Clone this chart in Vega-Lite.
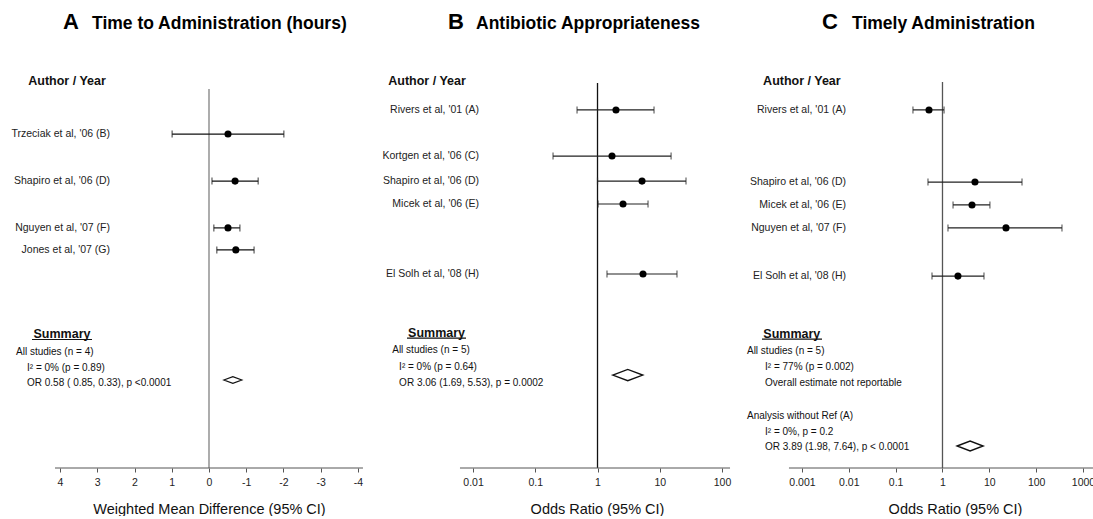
{
  "$schema": "https://vega.github.io/schema/vega-lite/v6.json",
  "padding": 0,
  "background": "white",
  "bounds": "flush",
  "spacing": 0,
  "config": {
    "font": "Liberation Sans",
    "view": {"stroke": null},
    "axis": {"domain": false, "grid": false, "ticks": true, "tickSize": 4, "tickColor": "#555", "labelFontSize": 10.5, "labelColor": "#222", "labelPadding": 5, "labelFlush": false, "titleFontSize": 14.5, "titleFontWeight": "normal", "titleColor": "#111", "titlePadding": 15, "labelFont": "Liberation Sans", "titleFont": "Liberation Sans"},
    "text": {"font": "Liberation Sans", "color": "#111"}
  },
  "datasets": {
    "A_studies": [
      {"label": "Trzeciak et al, '06 (B)", "row": 2.31, "est": -0.51, "lo": 0.99, "hi": -2.01},
      {"label": "Shapiro et al, '06 (D)", "row": 4.32, "est": -0.70, "lo": -0.08, "hi": -1.32},
      {"label": "Nguyen et al, '07 (F)", "row": 6.32, "est": -0.51, "lo": -0.13, "hi": -0.83},
      {"label": "Jones et al, '07 (G)", "row": 7.26, "est": -0.72, "lo": -0.21, "hi": -1.21}
    ],
    "A_pool": [{"row": 12.82, "est": -0.64, "lo": -0.40, "hi": -0.89}],
    "A_notes": [
      {"text": "All studies (n = 4)", "row": 11.62, "level": 1},
      {"text": "I² = 0% (p = 0.89)", "row": 12.31, "level": 2},
      {"text": "OR  0.58 ( 0.85,  0.33), p <0.0001", "row": 12.95, "level": 2}
    ],
    "B_studies": [
      {"label": "Rivers et al, '01 (A)", "row": 1.28, "est": 1.98, "lo": 0.469, "hi": 8.09},
      {"label": "Kortgen et al, '06 (C)", "row": 3.25, "est": 1.71, "lo": 0.193, "hi": 15.2},
      {"label": "Shapiro et al, '06 (D)", "row": 4.32, "est": 5.19, "lo": 1.0, "hi": 26.4},
      {"label": "Micek et al, '06 (E)", "row": 5.3, "est": 2.57, "lo": 1.02, "hi": 6.48},
      {"label": "El Solh et al, '08 (H)", "row": 8.29, "est": 5.38, "lo": 1.42, "hi": 18.9}
    ],
    "B_pool": [{"row": 12.61, "est": 3.06, "lo": 1.69, "hi": 5.53}],
    "B_notes": [
      {"text": "All studies (n = 5)", "row": 11.54, "level": 1},
      {"text": "I² = 0% (p = 0.64)", "row": 12.26, "level": 2},
      {"text": "OR 3.06 (1.69, 5.53), p = 0.0002", "row": 12.95, "level": 2}
    ],
    "C_studies": [
      {"label": "Rivers et al, '01 (A)", "row": 1.28, "est": 0.515, "lo": 0.234, "hi": 1.08},
      {"label": "Shapiro et al, '06 (D)", "row": 4.36, "est": 4.94, "lo": 0.49, "hi": 49.9},
      {"label": "Micek et al, '06 (E)", "row": 5.34, "est": 4.27, "lo": 1.68, "hi": 10.3},
      {"label": "Nguyen et al, '07 (F)", "row": 6.32, "est": 22.7, "lo": 1.31, "hi": 356},
      {"label": "El Solh et al, '08 (H)", "row": 8.38, "est": 2.14, "lo": 0.597, "hi": 7.69}
    ],
    "C_pool": [{"row": 15.64, "est": 3.89, "lo": 1.98, "hi": 7.64}],
    "C_notes": [
      {"text": "All studies (n = 5)", "row": 11.58, "level": 1},
      {"text": "I² = 77% (p = 0.002)", "row": 12.26, "level": 2},
      {"text": "Overall estimate not reportable", "row": 12.95, "level": 2},
      {"text": "Analysis without Ref (A)", "row": 14.36, "level": 1},
      {"text": "I² = 0%, p = 0.2", "row": 15.04, "level": 2},
      {"text": "OR 3.89 (1.98, 7.64), p < 0.0001", "row": 15.68, "level": 2}
    ]
  },
  "hconcat": [
    {
      "width": 366,
      "height": 468,
      "layer": [
        {"data": {"values": [{}]}, "mark": {"type": "rule", "color": "#808080", "strokeWidth": 1.3},
         "encoding": {"x": {"datum": 0, "type": "quantitative", "scale": {"domain": [-4.215, 5.611], "reverse": true, "nice": false, "zero": false}, "axis": {"values": [4, 3, 2, 1, 0, -1, -2, -3, -4], "labelExpr": "'' + datum.value", "title": "Weighted Mean Difference (95% CI)", "titleX": 209}},
                      "y": {"datum": 0.38, "type": "quantitative", "scale": {"domain": [-3.419, 16.581], "reverse": true, "nice": false, "zero": false}, "axis": null},
                      "y2": {"datum": 16.581}}},
        {"data": {"values": [{}]}, "mark": {"type": "rule", "color": "#555", "strokeWidth": 1},
         "encoding": {"x": {"datum": 4.134, "type": "quantitative"}, "x2": {"datum": -4.134}, "y": {"datum": 16.581, "type": "quantitative", "axis": null}}},
        {"data": {"name": "A_studies"}, "mark": {"type": "rule", "color": "#111", "strokeWidth": 1.2},
         "encoding": {"x": {"field": "lo", "type": "quantitative"}, "x2": {"field": "hi"}, "y": {"field": "row", "type": "quantitative", "axis": null}}},
        {"data": {"name": "A_studies"}, "transform": [{"fold": ["lo", "hi"], "as": ["end", "v"]}], "mark": {"type": "tick", "orient": "vertical", "color": "#111", "thickness": 1.2, "size": 7},
         "encoding": {"x": {"field": "v", "type": "quantitative"}, "y": {"field": "row", "type": "quantitative", "axis": null}}},
        {"data": {"name": "A_studies"}, "mark": {"type": "point", "shape": "circle", "filled": true, "color": "#000", "size": 50, "opacity": 1},
         "encoding": {"x": {"field": "est", "type": "quantitative"}, "y": {"field": "row", "type": "quantitative", "axis": null}}},
        {"data": {"name": "A_pool"}, "mark": {"type": "point", "shape": "M-1,0L0,-0.38L1,0L0,0.38Z", "filled": true, "fill": "white", "stroke": "#111", "strokeWidth": 1.2, "size": 324, "opacity": 1},
         "encoding": {"x": {"field": "est", "type": "quantitative"}, "y": {"field": "row", "type": "quantitative", "axis": null}}},
        {"data": {"name": "A_studies"}, "mark": {"type": "text", "align": "right", "baseline": "middle", "fontSize": 10.5, "color": "#222"},
         "encoding": {"x": {"datum": 2.658, "type": "quantitative"}, "y": {"field": "row", "type": "quantitative", "axis": null}, "text": {"field": "label"}}},
        {"data": {"values": [{"text": "Author / Year", "row": 0.04}]}, "mark": {"type": "text", "align": "center", "baseline": "middle", "fontSize": 12.5, "fontWeight": "bold"},
         "encoding": {"x": {"datum": 3.812, "type": "quantitative"}, "y": {"field": "row", "type": "quantitative", "axis": null}, "text": {"field": "text"}}},
        {"data": {"values": [{"text": "Summary", "row": 10.85}]}, "mark": {"type": "text", "align": "center", "baseline": "middle", "fontSize": 12.5, "fontWeight": "bold"},
         "encoding": {"x": {"datum": 3.946, "type": "quantitative"}, "y": {"field": "row", "type": "quantitative", "axis": null}, "text": {"field": "text"}}},
        {"data": {"values": [{}]}, "mark": {"type": "rule", "color": "#111", "strokeWidth": 1.2},
         "encoding": {"x": {"datum": 4.752, "type": "quantitative"}, "x2": {"datum": 3.141}, "y": {"datum": 11.09, "type": "quantitative", "axis": null}}},
        {"data": {"name": "A_notes"}, "transform": [{"filter": "datum.level == 1"}], "mark": {"type": "text", "align": "left", "baseline": "middle", "fontSize": 10},
         "encoding": {"x": {"datum": 5.181, "type": "quantitative"}, "y": {"field": "row", "type": "quantitative", "axis": null}, "text": {"field": "text"}}},
        {"data": {"name": "A_notes"}, "transform": [{"filter": "datum.level == 2"}], "mark": {"type": "text", "align": "left", "baseline": "middle", "fontSize": 10},
         "encoding": {"x": {"datum": 4.886, "type": "quantitative"}, "y": {"field": "row", "type": "quantitative", "axis": null}, "text": {"field": "text"}}},
        {"data": {"values": [{"text": "A", "row": -2.16}]}, "mark": {"type": "text", "align": "left", "baseline": "alphabetic", "fontSize": 22, "fontWeight": "bold", "color": "#000"},
         "encoding": {"x": {"datum": 3.919, "type": "quantitative"}, "y": {"field": "row", "type": "quantitative", "axis": null}, "text": {"field": "text"}}},
        {"data": {"values": [{"text": "Time to Administration (hours)", "row": -2.16}]}, "mark": {"type": "text", "align": "left", "baseline": "alphabetic", "fontSize": 17.5, "fontWeight": "bold", "color": "#000"},
         "encoding": {"x": {"datum": 3.141, "type": "quantitative"}, "y": {"field": "row", "type": "quantitative", "axis": null}, "text": {"field": "text"}}}
      ]
    },
    {
      "width": 374,
      "height": 468,
      "layer": [
        {"data": {"values": [{}]}, "mark": {"type": "rule", "color": "#111", "strokeWidth": 1.3},
         "encoding": {"x": {"datum": 1, "type": "quantitative", "scale": {"type": "log", "domain": [0.000191, 194.5], "nice": false}, "axis": {"values": [0.01, 0.1, 1, 10, 100], "labelExpr": "'' + datum.value", "title": "Odds Ratio (95% CI)", "titleX": 231}},
                      "y": {"datum": 0.13, "type": "quantitative", "scale": {"domain": [-3.419, 16.581], "reverse": true, "nice": false, "zero": false}, "axis": null},
                      "y2": {"datum": 16.581}}},
        {"data": {"values": [{}]}, "mark": {"type": "rule", "color": "#555", "strokeWidth": 1},
         "encoding": {"x": {"datum": 0.00618, "type": "quantitative"}, "x2": {"datum": 134.5}, "y": {"datum": 16.581, "type": "quantitative", "axis": null}}},
        {"data": {"name": "B_studies"}, "mark": {"type": "rule", "color": "#222", "strokeWidth": 1.2},
         "encoding": {"x": {"field": "lo", "type": "quantitative"}, "x2": {"field": "hi"}, "y": {"field": "row", "type": "quantitative", "axis": null}}},
        {"data": {"name": "B_studies"}, "transform": [{"fold": ["lo", "hi"], "as": ["end", "v"]}], "mark": {"type": "tick", "orient": "vertical", "color": "#222", "thickness": 1.2, "size": 7},
         "encoding": {"x": {"field": "v", "type": "quantitative"}, "y": {"field": "row", "type": "quantitative", "axis": null}}},
        {"data": {"name": "B_studies"}, "mark": {"type": "point", "shape": "circle", "filled": true, "color": "#000", "size": 50, "opacity": 1},
         "encoding": {"x": {"field": "est", "type": "quantitative"}, "y": {"field": "row", "type": "quantitative", "axis": null}}},
        {"data": {"name": "B_pool"}, "mark": {"type": "point", "shape": "M-1,0L0,-0.38L1,0L0,0.38Z", "filled": true, "fill": "white", "stroke": "#111", "strokeWidth": 1.4, "size": 900, "opacity": 1},
         "encoding": {"x": {"field": "est", "type": "quantitative"}, "y": {"field": "row", "type": "quantitative", "axis": null}}},
        {"data": {"name": "B_studies"}, "mark": {"type": "text", "align": "right", "baseline": "middle", "fontSize": 10.5, "color": "#222"},
         "encoding": {"x": {"datum": 0.01248, "type": "quantitative"}, "y": {"field": "row", "type": "quantitative", "axis": null}, "text": {"field": "label"}}},
        {"data": {"values": [{"text": "Author / Year", "row": 0.04}]}, "mark": {"type": "text", "align": "center", "baseline": "middle", "fontSize": 12.5, "fontWeight": "bold"},
         "encoding": {"x": {"datum": 0.001824, "type": "quantitative"}, "y": {"field": "row", "type": "quantitative", "axis": null}, "text": {"field": "text"}}},
        {"data": {"values": [{"text": "Summary", "row": 10.81}]}, "mark": {"type": "text", "align": "center", "baseline": "middle", "fontSize": 12.5, "fontWeight": "bold"},
         "encoding": {"x": {"datum": 0.002594, "type": "quantitative"}, "y": {"field": "row", "type": "quantitative", "axis": null}, "text": {"field": "text"}}},
        {"data": {"values": [{}]}, "mark": {"type": "rule", "color": "#111", "strokeWidth": 1.2},
         "encoding": {"x": {"datum": 0.000871, "type": "quantitative"}, "x2": {"datum": 0.00772}, "y": {"datum": 11.03, "type": "quantitative", "axis": null}}},
        {"data": {"name": "B_notes"}, "transform": [{"filter": "datum.level == 1"}], "mark": {"type": "text", "align": "left", "baseline": "middle", "fontSize": 10},
         "encoding": {"x": {"datum": 0.000504, "type": "quantitative"}, "y": {"field": "row", "type": "quantitative", "axis": null}, "text": {"field": "text"}}},
        {"data": {"name": "B_notes"}, "transform": [{"filter": "datum.level == 2"}], "mark": {"type": "text", "align": "left", "baseline": "middle", "fontSize": 10},
         "encoding": {"x": {"datum": 0.00065, "type": "quantitative"}, "y": {"field": "row", "type": "quantitative", "axis": null}, "text": {"field": "text"}}},
        {"data": {"values": [{"text": "B", "row": -2.16}]}, "mark": {"type": "text", "align": "left", "baseline": "alphabetic", "fontSize": 22, "fontWeight": "bold", "color": "#000"},
         "encoding": {"x": {"datum": 0.00396, "type": "quantitative"}, "y": {"field": "row", "type": "quantitative", "axis": null}, "text": {"field": "text"}}},
        {"data": {"values": [{"text": "Antibiotic Appropriateness", "row": -2.16}]}, "mark": {"type": "text", "align": "left", "baseline": "alphabetic", "fontSize": 17.5, "fontWeight": "bold", "color": "#000"},
         "encoding": {"x": {"datum": 0.01117, "type": "quantitative"}, "y": {"field": "row", "type": "quantitative", "axis": null}, "text": {"field": "text"}}}
      ]
    },
    {
      "width": 353,
      "height": 468,
      "layer": [
        {"data": {"values": [{}]}, "mark": {"type": "rule", "color": "#555", "strokeWidth": 1.3},
         "encoding": {"x": {"datum": 1, "type": "quantitative", "scale": {"type": "log", "domain": [0.00004742, 1637], "nice": false}, "axis": {"values": [0.001, 0.01, 0.1, 1, 10, 100, 1000], "labelExpr": "'' + datum.value", "title": "Odds Ratio (95% CI)", "titleX": 215}},
                      "y": {"datum": 0.09, "type": "quantitative", "scale": {"domain": [-3.419, 16.581], "reverse": true, "nice": false, "zero": false}, "axis": null},
                      "y2": {"datum": 16.581}}},
        {"data": {"values": [{}]}, "mark": {"type": "rule", "color": "#555", "strokeWidth": 1},
         "encoding": {"x": {"datum": 0.000527, "type": "quantitative"}, "x2": {"datum": 1637}, "y": {"datum": 16.581, "type": "quantitative", "axis": null}}},
        {"data": {"name": "C_studies"}, "mark": {"type": "rule", "color": "#222", "strokeWidth": 1.2},
         "encoding": {"x": {"field": "lo", "type": "quantitative"}, "x2": {"field": "hi"}, "y": {"field": "row", "type": "quantitative", "axis": null}}},
        {"data": {"name": "C_studies"}, "transform": [{"fold": ["lo", "hi"], "as": ["end", "v"]}], "mark": {"type": "tick", "orient": "vertical", "color": "#222", "thickness": 1.2, "size": 7},
         "encoding": {"x": {"field": "v", "type": "quantitative"}, "y": {"field": "row", "type": "quantitative", "axis": null}}},
        {"data": {"name": "C_studies"}, "mark": {"type": "point", "shape": "circle", "filled": true, "color": "#000", "size": 50, "opacity": 1},
         "encoding": {"x": {"field": "est", "type": "quantitative"}, "y": {"field": "row", "type": "quantitative", "axis": null}}},
        {"data": {"name": "C_pool"}, "mark": {"type": "point", "shape": "M-1,0L0,-0.38L1,0L0,0.38Z", "filled": true, "fill": "white", "stroke": "#111", "strokeWidth": 1.4, "size": 676, "opacity": 1},
         "encoding": {"x": {"field": "est", "type": "quantitative"}, "y": {"field": "row", "type": "quantitative", "axis": null}}},
        {"data": {"name": "C_studies"}, "mark": {"type": "text", "align": "right", "baseline": "middle", "fontSize": 10.5, "color": "#222"},
         "encoding": {"x": {"datum": 0.00869, "type": "quantitative"}, "y": {"field": "row", "type": "quantitative", "axis": null}, "text": {"field": "label"}}},
        {"data": {"values": [{"text": "Author / Year", "row": 0.04}]}, "mark": {"type": "text", "align": "center", "baseline": "middle", "fontSize": 12.5, "fontWeight": "bold"},
         "encoding": {"x": {"datum": 0.000995, "type": "quantitative"}, "y": {"field": "row", "type": "quantitative", "axis": null}, "text": {"field": "text"}}},
        {"data": {"values": [{"text": "Summary", "row": 10.85}]}, "mark": {"type": "text", "align": "center", "baseline": "middle", "fontSize": 12.5, "fontWeight": "bold"},
         "encoding": {"x": {"datum": 0.000605, "type": "quantitative"}, "y": {"field": "row", "type": "quantitative", "axis": null}, "text": {"field": "text"}}},
        {"data": {"values": [{}]}, "mark": {"type": "rule", "color": "#111", "strokeWidth": 1.2},
         "encoding": {"x": {"datum": 0.00014, "type": "quantitative"}, "x2": {"datum": 0.002673}, "y": {"datum": 11.07, "type": "quantitative", "axis": null}}},
        {"data": {"name": "C_notes"}, "transform": [{"filter": "datum.level == 1"}], "mark": {"type": "text", "align": "left", "baseline": "middle", "fontSize": 10},
         "encoding": {"x": {"datum": 0.0000668, "type": "quantitative"}, "y": {"field": "row", "type": "quantitative", "axis": null}, "text": {"field": "text"}}},
        {"data": {"name": "C_notes"}, "transform": [{"filter": "datum.level == 2"}], "mark": {"type": "text", "align": "left", "baseline": "middle", "fontSize": 10},
         "encoding": {"x": {"datum": 0.0001622, "type": "quantitative"}, "y": {"field": "row", "type": "quantitative", "axis": null}, "text": {"field": "text"}}},
        {"data": {"values": [{"text": "C", "row": -2.16}]}, "mark": {"type": "text", "align": "left", "baseline": "alphabetic", "fontSize": 22, "fontWeight": "bold", "color": "#000"},
         "encoding": {"x": {"datum": 0.002673, "type": "quantitative"}, "y": {"field": "row", "type": "quantitative", "axis": null}, "text": {"field": "text"}}},
        {"data": {"values": [{"text": "Timely Administration", "row": -2.16}]}, "mark": {"type": "text", "align": "left", "baseline": "alphabetic", "fontSize": 17.5, "fontWeight": "bold", "color": "#000"},
         "encoding": {"x": {"datum": 0.01169, "type": "quantitative"}, "y": {"field": "row", "type": "quantitative", "axis": null}, "text": {"field": "text"}}}
      ]
    }
  ]
}
